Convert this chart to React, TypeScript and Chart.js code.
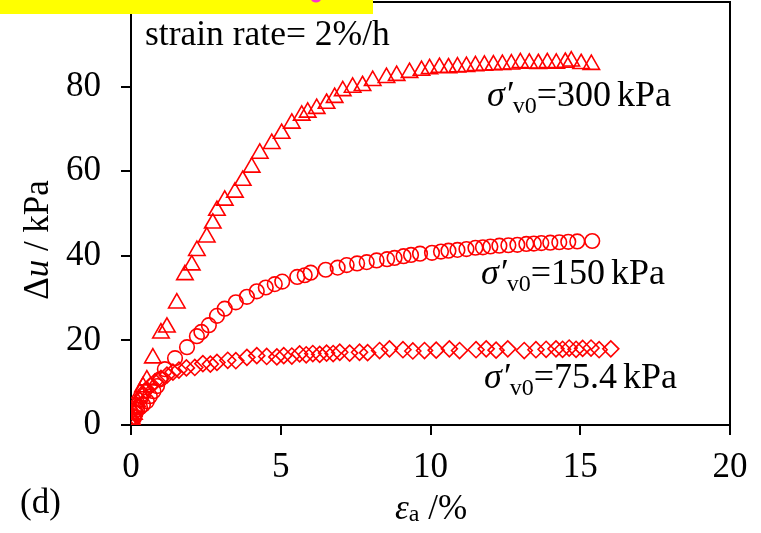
import React, { useEffect, useRef } from 'react';
import { Chart, registerables } from 'chart.js';

Chart.register(...registerables);

const SERIF = '"Liberation Serif", "Times New Roman", serif';
const RED = '#ff0000';

// Axis ranges and tick spacing
const xRange = [0, 20];
const yRange = [0, 100];
const xStep = 5;
const yStep = 20;

// σ'v0 = 300 kPa
const strain300 = [0, 0.05, 0.1, 0.15, 0.2, 0.3, 0.4, 0.53, 0.73, 1.0, 1.2, 1.53, 1.8, 2.03, 2.2, 2.53, 2.73, 2.87, 3.13, 3.47, 3.73, 4.03, 4.3, 4.7, 5.03, 5.37, 5.7, 5.9, 6.2, 6.53, 6.8, 7.07, 7.4, 7.73, 8.07, 8.53, 8.87, 9.3, 9.7, 9.97, 10.3, 10.6, 10.9, 11.2, 11.5, 11.8, 12.1, 12.4, 12.7, 13.0, 13.3, 13.6, 13.9, 14.2, 14.5, 14.7, 15.03, 15.37];
const du300 = [0, 1, 2.5, 4, 5.5, 7.5, 9, 10.6, 15.8, 21.7, 23.1, 28.8, 35.5, 37.8, 41.2, 44.4, 47.7, 50.7, 53.1, 55, 57.8, 60.9, 64.2, 66.5, 68.9, 71.3, 73.2, 73.9, 74.8, 76, 77.4, 79, 79.8, 80.2, 81.4, 82.1, 82.6, 83.3, 83.8, 84.2, 84.5, 84.4, 84.6, 84.7, 84.9, 85.0, 85.1, 85.2, 85.3, 85.6, 85.5, 85.4, 85.6, 85.5, 85.7, 86.0, 85.4, 85.2];

// σ'v0 = 150 kPa
const strain150 = [0, 0.05, 0.1, 0.15, 0.2, 0.3, 0.4, 0.53, 0.63, 0.75, 0.87, 0.97, 1.13, 1.47, 1.87, 2.2, 2.35, 2.6, 2.87, 3.13, 3.5, 3.87, 4.2, 4.5, 4.8, 5.05, 5.55, 5.8, 6.0, 6.5, 6.9, 7.2, 7.55, 7.87, 8.2, 8.55, 8.8, 9.1, 9.35, 9.65, 10.05, 10.35, 10.6, 10.9, 11.2, 11.5, 11.75, 12.0, 12.3, 12.6, 12.9, 13.2, 13.45, 13.7, 14.0, 14.3, 14.6, 14.9, 15.4];
const du150 = [0, 0.8, 1.8, 2.8, 3.6, 4.2, 4.8, 5.6, 6.8, 8, 9.2, 10.8, 13.2, 15.8, 18.4, 21, 22, 23.6, 25.8, 27.5, 29, 30.3, 31.6, 32.5, 33.3, 33.9, 35, 35.4, 36, 36.7, 37.2, 37.8, 38.2, 38.5, 38.9, 39.2, 39.5, 39.9, 40.2, 40.5, 40.7, 41.0, 41.2, 41.4, 41.6, 41.9, 42.0, 42.2, 42.4, 42.5, 42.6, 42.8, 42.9, 43.0, 43.1, 43.2, 43.3, 43.4, 43.5];

// σ'v0 = 75.4 kPa
const strain75 = [0, 0.05, 0.1, 0.15, 0.2, 0.3, 0.4, 0.5, 0.65, 0.8, 1.0, 1.2, 1.4, 1.6, 1.85, 2.13, 2.4, 2.65, 2.87, 3.23, 3.5, 3.87, 4.2, 4.53, 4.87, 5.1, 5.37, 5.63, 5.85, 6.07, 6.3, 6.53, 6.75, 6.97, 7.3, 7.63, 7.9, 8.3, 8.63, 9.08, 9.41, 9.8, 10.19, 10.63, 10.97, 11.52, 11.86, 12.19, 12.58, 13.13, 13.52, 13.86, 14.19, 14.41, 14.63, 14.86, 15.08, 15.36, 15.63, 16.02];
const du75 = [0, 1, 2, 3.2, 4.3, 5.8, 7, 8.2, 9.3, 10.2, 11, 11.8, 12.5, 13, 13.5, 13.6, 14.5, 14.4, 14.8, 15.3, 15.2, 16.0, 16.4, 16.2, 16.1, 16.4, 16.3, 16.8, 16.6, 16.9, 16.7, 17.0, 16.9, 17.2, 17.0, 17.2, 17.1, 17.6, 18.0, 17.8, 17.5, 17.6, 17.7, 18.0, 17.6, 17.8, 18.0, 17.7, 18.0, 17.6, 17.8, 17.9, 18.0, 17.9, 18.2, 17.9, 18.1, 18.2, 17.8, 18.0];

const toPoints = (xs: number[], ys: number[]) => xs.map((x, i) => ({ x, y: ys[i] }));

type Run = { text: string; size: number; italic?: boolean; dy?: number; gap?: number };

function runFont(r: Run) {
  return `${r.italic ? 'italic ' : ''}${r.size}px ${SERIF}`;
}

function runsWidth(ctx: CanvasRenderingContext2D, runs: Run[]) {
  let w = 0;
  for (const r of runs) {
    ctx.font = runFont(r);
    w += ctx.measureText(r.text).width + (r.gap || 0);
  }
  return w;
}

function drawRuns(ctx: CanvasRenderingContext2D, x: number, y: number, runs: Run[]) {
  let cx = x;
  for (const r of runs) {
    ctx.font = runFont(r);
    ctx.fillText(r.text, cx, y + (r.dy || 0));
    cx += ctx.measureText(r.text).width + (r.gap || 0);
  }
}

const sigmaLabel = (value: string): Run[] => [
  { text: 'σ', size: 36, italic: true },
  { text: '′', size: 36, italic: true },
  { text: 'v0', size: 24, dy: 7 },
  { text: '=' + value, size: 36, gap: 6 },
  { text: 'kPa', size: 36 },
];

const annotations = {
  id: 'annotations',
  afterDraw(chart: any) {
    const { ctx, chartArea } = chart;
    ctx.save();

    // frame: top and right edges
    ctx.strokeStyle = '#000';
    ctx.lineWidth = 2;
    ctx.beginPath();
    ctx.moveTo(chartArea.left, chartArea.top);
    ctx.lineTo(chartArea.right, chartArea.top);
    ctx.lineTo(chartArea.right, chartArea.bottom);
    ctx.stroke();

    ctx.fillStyle = '#000';
    ctx.textBaseline = 'alphabetic';
    ctx.textAlign = 'left';

    drawRuns(ctx, 145, 45, [{ text: 'strain rate= 2%/h', size: 35.5 }]);
    drawRuns(ctx, 487, 106, sigmaLabel('300'));
    drawRuns(ctx, 481, 284, sigmaLabel('150'));
    drawRuns(ctx, 484, 388, sigmaLabel('75.4'));
    drawRuns(ctx, 20, 513, [{ text: '(d)', size: 35 }]);

    // x-axis title
    const xTitle: Run[] = [
      { text: 'ε', size: 35, italic: true },
      { text: 'a', size: 24, dy: 2 },
      { text: ' /%', size: 35 },
    ];
    drawRuns(ctx, 395, 519, xTitle);

    // y-axis title
    const yTitle: Run[] = [
      { text: 'Δ', size: 35 },
      { text: 'u', size: 35, italic: true },
      { text: ' / kPa', size: 35 },
    ];
    ctx.save();
    ctx.translate(48, 240);
    ctx.rotate(-Math.PI / 2);
    drawRuns(ctx, -runsWidth(ctx, yTitle) / 2, 0, yTitle);
    ctx.restore();

    // highlight band across the top-left corner
    ctx.fillStyle = '#ffff00';
    ctx.fillRect(0, 0, 373, 14);
    ctx.fillStyle = '#ff33cc';
    ctx.beginPath();
    ctx.ellipse(316, -1, 5, 3.5, 0, 0, Math.PI * 2);
    ctx.fill();

    ctx.restore();
  },
};

export default function App() {
  const canvasRef = useRef<HTMLCanvasElement>(null);

  useEffect(() => {
    const canvas = canvasRef.current;
    if (!canvas) return;

    const common = {
      showLine: false,
      borderColor: RED,
      backgroundColor: 'rgba(0,0,0,0)',
      pointBorderColor: RED,
      pointBackgroundColor: 'rgba(0,0,0,0)',
      pointBorderWidth: 1.6,
    };

    const tickFont = { family: SERIF, size: 35 };

    const chart = new Chart(canvas, {
      type: 'scatter',
      data: {
        datasets: [
          { ...common, label: '300 kPa', data: toPoints(strain300, du300), pointStyle: 'triangle', pointRadius: 9.5 },
          { ...common, label: '150 kPa', data: toPoints(strain150, du150), pointStyle: 'circle', pointRadius: 7.3 },
          { ...common, label: '75.4 kPa', data: toPoints(strain75, du75), pointStyle: 'rectRot', pointRadius: 8 },
        ],
      },
      options: {
        animation: false,
        responsive: false,
        maintainAspectRatio: false,
        layout: { autoPadding: false, padding: { left: 0, top: 2, right: 31, bottom: 0 } },
        plugins: {
          legend: { display: false },
          tooltip: { enabled: false },
        },
        scales: {
          x: {
            type: 'linear',
            min: xRange[0],
            max: xRange[1],
            ticks: { stepSize: xStep, color: '#000', font: tickFont, padding: 12, maxRotation: 0 },
            grid: { drawOnChartArea: false, drawTicks: true, tickLength: 10, color: '#000', lineWidth: 2 },
            border: { color: '#000', width: 2 },
            afterFit: (scale: any) => {
              scale.height = 108;
              scale.paddingLeft = 0;
              scale.paddingRight = 0;
            },
          },
          y: {
            type: 'linear',
            min: yRange[0],
            max: yRange[1],
            ticks: { stepSize: yStep, color: '#000', font: tickFont, padding: 20 },
            grid: { drawOnChartArea: false, drawTicks: true, tickLength: 10, color: '#000', lineWidth: 2 },
            border: { color: '#000', width: 2 },
            afterFit: (scale: any) => {
              scale.width = 131;
              scale.paddingTop = 0;
              scale.paddingBottom = 0;
            },
          },
        },
      },
      plugins: [annotations],
    } as any);

    return () => chart.destroy();
  }, []);

  return (
    <div style={{ position: 'fixed', left: 0, top: 0, width: 761, height: 533, background: '#fff' }}>
      <canvas ref={canvasRef} width={761} height={533} style={{ display: 'block' }} />
    </div>
  );
}
